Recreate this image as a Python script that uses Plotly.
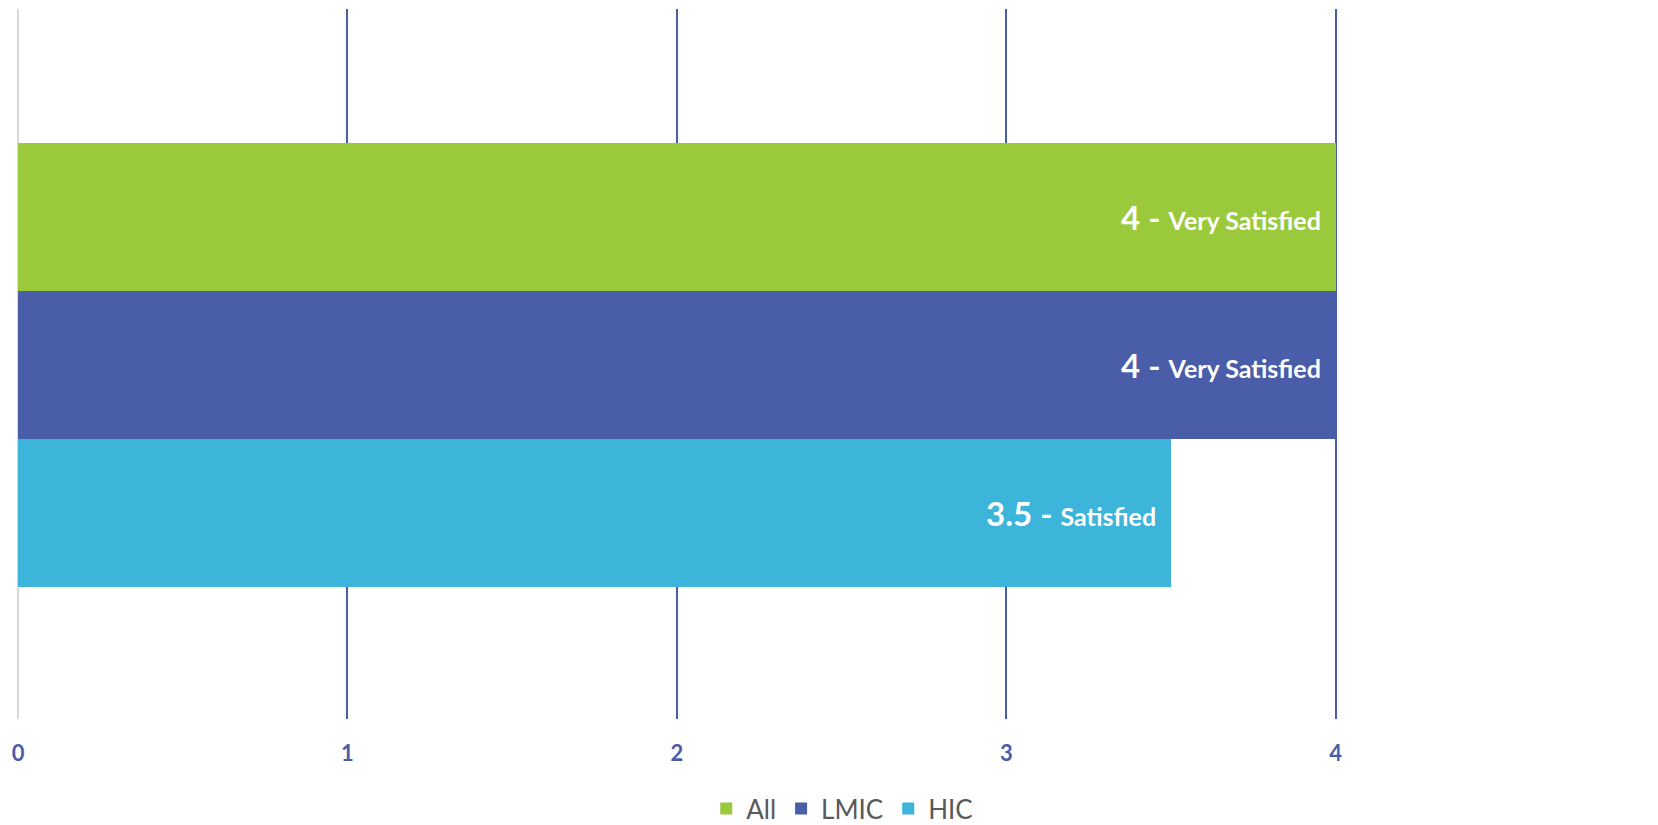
import plotly.graph_objects as go

groups = ["All", "LMIC", "HIC"]
values = [4, 4, 3.5]
labels = ["Very Satisfied", "Very Satisfied", "Satisfied"]
colors = ["#9AC93C", "#4A5DA9", "#3DB4DA"]
ticks = [0, 1, 2, 3, 4]

FONT = "Lato"
fig = go.Figure()
for g, v, c in zip(groups, values, colors):
    fig.add_trace(go.Bar(
        y=[g], x=[v], orientation="h", name=g,
        marker=dict(color=c, line=dict(width=0)),
        hoverinfo="skip",
    ))

for g, v, lab in zip(groups, values, labels):
    fig.add_annotation(
        x=v, y=g, xref="x", yref="y", xanchor="right", yanchor="middle",
        xshift=-13, showarrow=False,
        text=f"<b><span style='font-size:33px'>{v:g} - </span>{lab}</b>",
        font=dict(family=FONT, size=25, color="white"),
    )

fig.update_layout(
    width=1658, height=825,
    margin=dict(l=18, r=321, t=9, b=106),
    paper_bgcolor="white", plot_bgcolor="white",
    barmode="overlay", bargap=0,
    showlegend=True,
    legend=dict(
        orientation="h", xref="container", yref="container",
        x=0.508, xanchor="center", y=0.02, yanchor="middle",
        font=dict(family=FONT, size=26, color="#595959"),
        traceorder="normal", itemclick=False,
    ),
    font=dict(family=FONT),
)
fig.update_xaxes(
    range=[0, 4.004], tickvals=ticks, ticktext=[str(t) for t in ticks],
    showgrid=True, gridcolor="#4A5DA9", gridwidth=1.5,
    zeroline=True, zerolinecolor="#D9D9D9", zerolinewidth=2,
    showline=False, ticks="", ticklabelstandoff=19,
    tickfont=dict(family=FONT, size=22, color="#4A5DA9", weight="bold"),
)
fig.update_yaxes(
    type="category", categoryorder="array", categoryarray=groups,
    range=[3.392, -1.405], showticklabels=False, showgrid=False,
    zeroline=False, showline=False,
)

fig.write_html("out.html")
